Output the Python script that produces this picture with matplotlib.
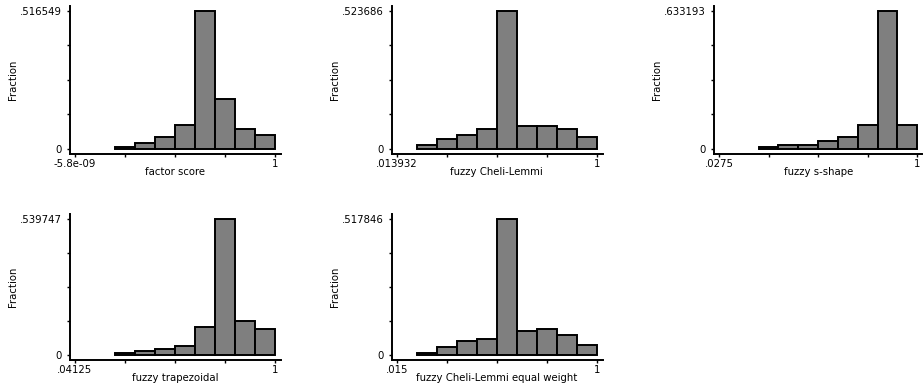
"""
Histogramas (fração) dos cinco índices de pobreza, estilo Stata antigo.
"""
import matplotlib
matplotlib.use("Agg")
import matplotlib.pyplot as plt
import numpy as np

# --- dados: 10 classes entre o mínimo e 1 ---
nomes = ["factor score", "fuzzy Cheli-Lemmi", "fuzzy s-shape",
         "fuzzy trapezoidal", "fuzzy Cheli-Lemmi equal weight"]
minimos = [-5.8e-09, 0.013932, 0.0275, 0.04125, 0.015]
maximos = [1.0, 1.0, 1.0, 1.0, 1.0]
rotulos_min = ["-5.8e-09", ".013932", ".0275", ".04125", ".015"]
rotulos_max = ["1", "1", "1", "1", "1"]
topos = [0.516549, 0.523686, 0.633193, 0.539747, 0.517846]
rotulos_topo = [".516549", ".523686", ".633193", ".539747", ".517846"]

frac_factor = [0, 0, 0.0087, 0.0210, 0.0460, 0.0886, 0.516549, 0.1870, 0.0749, 0.0512]
frac_cheli = [0, 0.0139, 0.0367, 0.0519, 0.0746, 0.523686, 0.0885, 0.0885, 0.0746, 0.0455]
frac_sshape = [0, 0, 0.0092, 0.0168, 0.0168, 0.0352, 0.0566, 0.1086, 0.633193, 0.1086]
frac_trap = [0, 0, 0.0066, 0.0159, 0.0225, 0.0371, 0.1100, 0.539747, 0.1340, 0.1020]
frac_cheli_eq = [0, 0.0076, 0.0293, 0.0522, 0.0598, 0.517846, 0.0903, 0.0980, 0.0750, 0.0369]
fracoes = [frac_factor, frac_cheli, frac_sshape, frac_trap, frac_cheli_eq]

# --- layout em pixels (figura 924x392) ---
W, H = 924, 392
# (x do dado mínimo, x do valor 1, y do zero, y do topo) em pixels
regioes = [
    (75, 275, 149, 11),
    (396.7, 596.7, 149, 11),
    (719, 917.3, 149, 11),
    (75, 275, 355, 219.3),
    (396.7, 596.7, 355, 219.3),
]
mx_esq, mx_dir, my_inf, my_sup = 5, 6, 5, 5

plt.rcParams["font.family"] = ["DejaVu Sans"]
fig = plt.figure(figsize=(W / 100, H / 100), dpi=100)

for i in range(5):
    x0p, x1p, y0p, y1p = regioes[i]
    esq = x0p - mx_esq
    dir_ = min(x1p + mx_dir, W - 2)
    inf = y0p + my_inf
    sup = y1p - my_sup
    larg, alt = dir_ - esq, inf - sup
    ax = fig.add_axes([esq / W, 1 - inf / H, larg / W, alt / H])

    xmin, xmax, topo = minimos[i], maximos[i], topos[i]
    ux = (xmax - xmin) / (x1p - x0p)
    uy = topo / (y0p - y1p)
    ax.set_xlim(xmin - (x0p - esq) * ux, xmax + (dir_ - x1p) * ux)
    ax.set_ylim(-(inf - y0p) * uy, topo + (y1p - sup) * uy)

    bordas = np.linspace(xmin, xmax, len(fracoes[i]) + 1)
    alturas = np.array(fracoes[i])
    ok = alturas > 0
    ax.bar(bordas[:-1][ok], alturas[ok], width=np.diff(bordas)[ok], align="edge",
           color="#7f7f7f", edgecolor="black", linewidth=1.4)

    for lado in ("top", "right"):
        ax.spines[lado].set_visible(False)
    for lado in ("left", "bottom"):
        ax.spines[lado].set_linewidth(1.4)

    ax.set_xticks(np.linspace(xmin, xmax, 5))
    ax.set_xticklabels([rotulos_min[i], "", "", "", rotulos_max[i]])
    ax.set_yticks(np.linspace(0, topo, 5))
    ax.set_yticklabels(["0", "", "", "", rotulos_topo[i]])
    ax.tick_params(axis="both", length=2.5, width=1.0, labelsize=7.3)
    ax.tick_params(axis="x", pad=1.2)
    ax.tick_params(axis="y", pad=3.5)

    # títulos dos eixos em posição fixa (pixels) relativa à caixa do eixo
    ax.set_xlabel(nomes[i], fontsize=7.3, va="center")
    ax.xaxis.set_label_coords(((x0p + x1p) / 2 - esq) / larg, -18 / alt)
    ax.set_ylabel("Fraction", fontsize=7.3, va="center")
    ax.yaxis.set_label_coords(-57 / larg, (inf - (y0p + y1p) / 2) / alt)

fig.savefig("out.png", dpi=100)
